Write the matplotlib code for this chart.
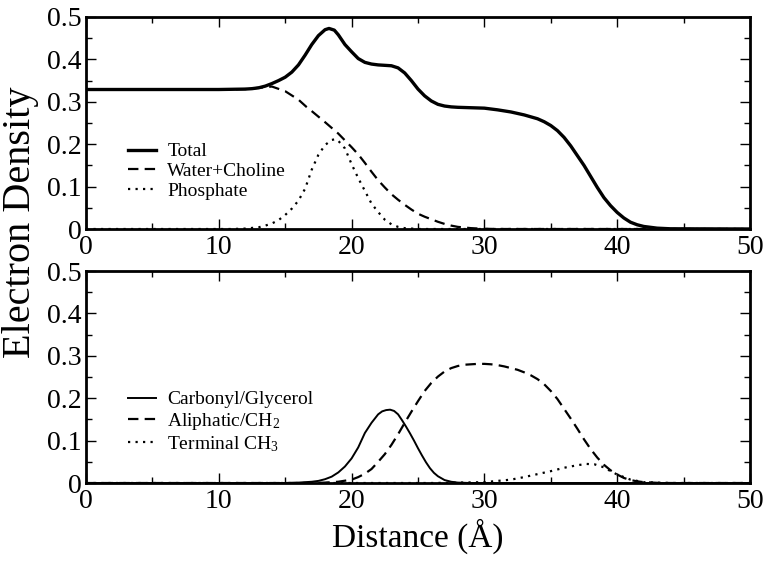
import matplotlib
matplotlib.use('Agg')
import matplotlib.pyplot as plt
from matplotlib.ticker import MultipleLocator, FuncFormatter

plt.rcParams['font.family'] = ['Liberation Serif', 'DejaVu Serif']
plt.rcParams['mathtext.fontset'] = 'custom'
plt.rcParams['mathtext.rm'] = 'Liberation Serif'
plt.rcParams['mathtext.it'] = 'Liberation Serif:italic'
plt.rcParams['lines.scale_dashes'] = False

# top panel: total, water+choline, phosphate
total_x = [0, 5, 10, 12, 12.5, 13, 13.5, 14, 14.5, 15, 15.5, 16, 16.5, 17, 17.5, 18, 18.3, 18.7, 19, 19.5,
           20, 20.5, 21, 21.5, 22, 22.5, 23, 23.5, 24, 24.5, 25, 25.5, 26, 26.5, 27, 27.5, 28, 29, 30,
           31, 32, 33, 34, 34.5, 35, 35.5, 36, 36.5, 37, 37.5, 38, 38.5, 39, 39.5, 40, 40.5, 41, 41.5,
           42, 43, 44, 50]
total_y = [.329, .329, .329, .330, .331, .333, .337, .343, .350, .358, .370, .387, .410, .435, .456, .470, .473, .469, .458, .435,
           .418, .402, .393, .389, .387, .386, .385, .380, .368, .350, .330, .314, .302, .294, .290, .288, .287, .286, .285,
           .281, .276, .269, .260, .253, .244, .232, .216, .196, .173, .150, .124, .098, .074, .055, .039, .026, .016, .010,
           .006, .002, .0005, 0]

water_x = [0, 5, 10, 12, 13, 14, 15, 16, 16.6, 17, 18, 19, 20, 20.5, 21, 21.5, 22, 22.5, 23, 23.5, 24, 24.5,
           25, 25.5, 26, 26.5, 27, 27.5, 28, 29, 30, 31, 50]
water_y = [.329, .329, .329, .330, .333, .336, .325, .305, .288, .278, .252, .225, .193, .176, .156, .135, .115, .098, .082, .069, .057, .046,
           .036, .029, .023, .017, .012, .008, .005, .002, .0005, 0, 0]

phos_x = [0, 11, 12, 13, 13.5, 14, 14.5, 15, 15.5, 16, 16.5, 17, 17.5, 18, 18.5, 18.8, 19, 19.5, 20, 20.5,
          21, 21.5, 22, 22.5, 23, 23.5, 24, 25, 50]
phos_y = [0, 0, .001, .004, .008, .013, .021, .033, .048, .067, .095, .140, .175, .198, .210, .212, .208, .190, .153, .120,
          .090, .060, .040, .022, .011, .005, .002, 0, 0]

# bottom panel: carbonyl/glycerol, aliphatic CH2, terminal CH3
carb_x = [0, 15, 16, 17, 17.5, 18, 18.5, 19, 19.5, 20, 20.5, 21, 21.5, 22, 22.3, 22.6, 22.9, 23.2, 23.5, 23.8,
          24.1, 24.4, 24.7, 25, 25.3, 25.6, 25.9, 26.2, 26.5, 27, 27.5, 28, 29, 50]
carb_y = [0, 0, .001, .003, .005, .009, .015, .025, .039, .058, .084, .118, .142, .162, .169, .172, .173, .170, .162, .148,
          .133, .117, .100, .082, .065, .049, .035, .024, .016, .007, .003, .001, 0, 0]

aliph_x = [0, 17, 18, 19, 20, 20.5, 21, 21.5, 22, 22.5, 23, 23.5, 24, 24.5, 25, 25.5, 26, 26.5, 27, 27.5, 28, 28.5,
           29, 29.5, 30, 30.5, 31, 31.5, 32, 32.5, 33, 33.5, 34, 34.5, 35, 35.5, 36, 36.5, 37, 37.5, 38, 38.5,
           39, 39.5, 40, 40.5, 41, 41.5, 42, 43, 44, 50]
aliph_y = [0, 0, .001, .003, .008, .014, .022, .033, .050, .068, .090, .115, .142, .168, .193, .217, .236, .251, .263, .271, .276, .279,
           .280, .281, .281, .280, .278, .275, .271, .267, .261, .254, .245, .233, .217, .198, .175, .152, .128, .103, .080, .060,
           .043, .030, .020, .012, .007, .004, .002, .0005, 0, 0]

term_x = [0, 26, 28, 30, 31, 32, 33, 34, 35, 36, 37, 37.7, 38.3, 39, 39.5, 40, 40.5, 41, 41.5, 42, 43, 44, 50]
term_y = [0, 0, .001, .002, .005, .008, .014, .021, .028, .036, .042, .045, .044, .037, .028, .020, .014, .008, .005, .002, .001, 0, 0]

fig = plt.figure(figsize=(7.71, 5.61), dpi=100)
ax1 = fig.add_axes([0.1115, 0.5918, 0.8613, 0.3779])
ax2 = fig.add_axes([0.1115, 0.139, 0.8613, 0.3779])

dot = (0, (1.6, 3.8))
dash = (0, (7.5, 4.5))

ax1.plot(total_x, total_y, color='black', lw=2.4, label='Total')
ax1.plot(water_x, water_y, color='black', lw=1.6, linestyle=dash, label='Water+Choline')
ax1.plot(phos_x, phos_y, color='black', lw=1.6, linestyle=dot, label='Phosphate')

ax2.plot(carb_x, carb_y, color='black', lw=1.4, label='Carbonyl/Glycerol')
ax2.plot(aliph_x, aliph_y, color='black', lw=1.6, linestyle=dash, label='Aliphatic/CH$_2$')
ax2.plot(term_x, term_y, color='black', lw=1.6, linestyle=dot, label='Terminal CH$_3$')

for ax, leg_y, spacing in ((ax1, 0.443, 0.1), (ax2, 0.472, 0.12)):
    ax.set_xlim(0, 50)
    ax.set_ylim(0, 0.5)
    ax.xaxis.set_major_locator(MultipleLocator(10))
    ax.xaxis.set_minor_locator(MultipleLocator(5))
    ax.yaxis.set_major_locator(MultipleLocator(0.1))
    ax.yaxis.set_minor_locator(MultipleLocator(0.05))
    ax.tick_params(which='both', direction='in', top=True, right=True, width=1.0, labelsize=20)
    ax.tick_params(which='major', length=7)
    ax.tick_params(which='minor', length=4.5)
    ax.tick_params(axis='x', pad=4)
    ax.tick_params(axis='y', pad=3)
    ax.yaxis.set_major_formatter(FuncFormatter(lambda v, p: '0' if v == 0 else '%.1f' % v))
    for s in ax.spines.values():
        s.set_linewidth(2.0)
    ax.legend(loc='upper left', bbox_to_anchor=(0.051, leg_y), frameon=False, fontsize=14,
              handlelength=1.45, handletextpad=0.6, labelspacing=spacing, borderaxespad=0)

fig.text(0.027, 0.604, 'Electron Density', rotation=90, ha='center', va='center', fontsize=29)
fig.text(0.542, 0.0437, 'Distance (Å)', ha='center', va='center', fontsize=24)

fig.savefig('out.png', dpi=100)
